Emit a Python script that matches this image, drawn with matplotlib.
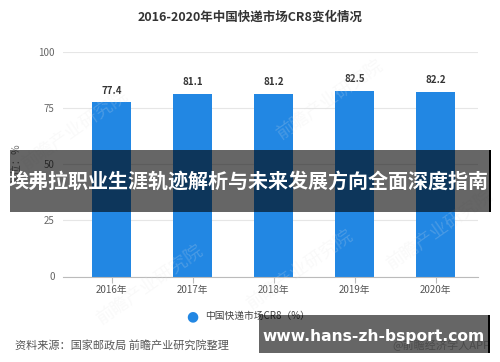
import matplotlib
matplotlib.use("Agg")
import matplotlib.pyplot as plt
from matplotlib.patches import Rectangle

plt.rcParams['font.family'] = ['Noto Sans CJK SC', 'DejaVu Sans']

years = ['2016年', '2017年', '2018年', '2019年', '2020年']
values = [77.4, 81.1, 81.2, 82.5, 82.2]
yticks = [0, 25, 50, 75, 100]
title = '2016-2020年中国快递市场CR8变化情况'
legend_label = '中国快递市场CR8（%）'
ylabel = '单位：%'
source = '资料来源：国家邮政局 前瞻产业研究院整理'
banner = '埃弗拉职业生涯轨迹解析与未来发展方向全面深度指南'
url = 'www.hans-zh-bsport.com'
credit = '@前瞻经济学人APP'

W, H = 500, 362
fig = plt.figure(figsize=(5, 3.62), dpi=100)
fig.patch.set_facecolor('white')

ax = fig.add_axes([63 / W, 1 - 276.5 / H, (478 - 63) / W, (276.5 - 51.5) / H])
x = list(range(len(years)))
bar_color = '#2287e3'
bars = ax.bar(x, values, width=0.48, color=bar_color, zorder=2)
for xi, v in zip(x, values):
    ax.text(xi, v + 3, f'{v:.1f}', ha='center', va='bottom', fontsize=7,
            fontweight='bold', color='#333333')
ax.set_xlim(-0.6, 4.52)
ax.set_ylim(0, 100)
ax.set_yticks(yticks)
ax.set_yticklabels([str(t) for t in yticks], fontsize=7, color='#666666')
ax.set_xticks(x)
ax.set_xticklabels(years, fontsize=7, color='#555555')
ax.grid(axis='y', color='#e6e6e6', linewidth=0.8, zorder=0)
for s in ['top', 'right', 'left']:
    ax.spines[s].set_visible(False)
ax.spines['bottom'].set_color('#bbbbbb')
ax.tick_params(axis='y', length=0, pad=6)
ax.tick_params(axis='x', length=4, color='#bbbbbb', pad=2)
ax.set_ylabel(ylabel, fontsize=7.5, color='#777777', labelpad=12)

# title
fig.text(250 / W, 1 - 17 / H, title, ha='center', va='center', fontsize=9,
         fontweight='bold', color='#333333')

# legend
fig.text(192 / W, 1 - 316 / H, '●', ha='center', va='center', fontsize=10,
         color=bar_color, family=['DejaVu Sans'])
fig.text(205 / W, 1 - 316 / H, legend_label, ha='left', va='center',
         fontsize=7, color='#444444')

# source
fig.text(15 / W, 1 - 345 / H, source, ha='left', va='center', fontsize=8,
         color='#555555')
fig.text(490 / W, 1 - 345 / H, credit, ha='right', va='center', fontsize=8,
         color='#bbbbbb', zorder=1)

# watermarks
wm_pos = [(75, 130), (150, 285), (330, 100), (300, 270), (440, 230)]
for px, py in wm_pos:
    fig.text(px / W, 1 - py / H, '前瞻产业研究院', ha='center', va='center',
             fontsize=13, color='#e4e4e4', alpha=0.2, rotation=35, zorder=3)

# banner overlay
fig.patches.append(Rectangle((10 / W, 1 - 211.5 / H), 480 / W, 61.5 / H,
                             transform=fig.transFigure, facecolor='black',
                             alpha=0.6, edgecolor='none', zorder=5))
fig.patches.append(Rectangle((489 / W, 1 - 211.5 / H), 2 / W, 61.5 / H,
                             transform=fig.transFigure, facecolor='black',
                             edgecolor='none', zorder=5))
fig.text(249 / W, 1 - 181 / H, banner, ha='center', va='center',
         fontsize=14.4, fontweight='bold', color='white', zorder=6)

# url box
fig.patches.append(Rectangle((259 / W, 1 - 353 / H), 230 / W, 38 / H,
                             transform=fig.transFigure, facecolor='black',
                             alpha=0.6, edgecolor='none', zorder=5))
fig.patches.append(Rectangle((488 / W, 1 - 353 / H), 2 / W, 38 / H,
                             transform=fig.transFigure, facecolor='black',
                             edgecolor='none', zorder=5))
fig.text(374 / W, 1 - 336 / H, url, ha='center', va='center', fontsize=11.2,
         fontweight='bold', color='white', family=['DejaVu Sans'], zorder=6)

fig.savefig('out.png', dpi=100)
